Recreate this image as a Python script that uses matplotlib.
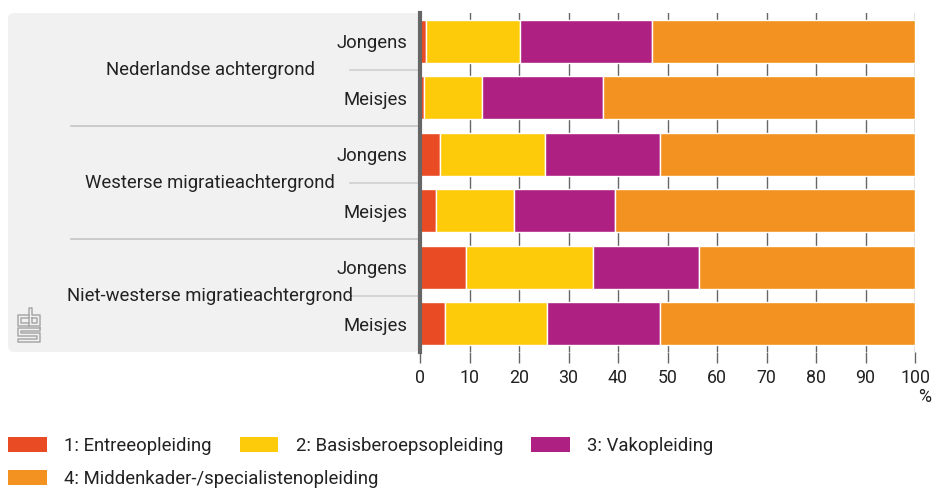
import matplotlib
matplotlib.use("Agg")
import matplotlib.pyplot as plt
import matplotlib.transforms as mtransforms
from matplotlib.patches import FancyBboxPatch, Patch
import numpy as np

# ---- data ----
groups = ["Nederlandse achtergrond", "Westerse migratieachtergrond", "Niet-westerse migratieachtergrond"]
sexes = ["Jongens", "Meisjes"]
series_names = ["1: Entreeopleiding", "2: Basisberoepsopleiding", "3: Vakopleiding",
                "4: Middenkader-/specialistenopleiding"]
entree = [1.2, 0.9, 4.0, 3.2, 9.2, 5.1]
basis = [19.1, 11.7, 21.3, 15.8, 25.7, 20.5]
vak = [26.6, 24.3, 23.1, 20.3, 21.4, 22.9]
midden = [53.1, 63.1, 51.6, 60.7, 43.7, 51.5]
xticks = [0, 10, 20, 30, 40, 50, 60, 70, 80, 90, 100]

colors = ["#e94c24", "#fdcb0a", "#ae2081", "#f39220"]
FONT = ["Roboto", "DejaVu Sans"]
plt.rcParams["font.family"] = FONT
FS = 13.3
TFS = 12.8
TXT = "#222222"

W, H = 933, 490
fig = plt.figure(figsize=(W / 100, H / 100), dpi=100)

# background pixel axes
bg = fig.add_axes([0, 0, 1, 1], zorder=0)
bg.set_xlim(0, W)
bg.set_ylim(H, 0)
bg.axis("off")
panel = FancyBboxPatch((8, 13), 412, 339, boxstyle="round,pad=0,rounding_size=6",
                       facecolor="#f0f1f0", edgecolor="none")
bg.add_patch(panel)

# main axes
L, R, T, B = 420, 915, 13, 352
ax = fig.add_axes([L / W, 1 - B / H, (R - L) / W, (B - T) / H], zorder=1)
ax.patch.set_alpha(0)

labels_rows = [s for g in groups for s in sexes]
y = np.arange(len(labels_rows))
left = np.zeros(len(y))
for vals, c in zip([entree, basis, vak, midden], colors):
    ax.barh(y, vals, left=left, height=0.76, color=c, edgecolor="white", linewidth=1, zorder=3)
    left = left + np.array(vals)

ax.set_xlim(0, 100)
ax.set_ylim(len(y) - 0.5, -0.5)
ax.set_xticks(xticks)
ax.set_xticklabels([str(t) for t in xticks], fontsize=TFS, color=TXT)
ax.tick_params(axis="x", direction="out", length=8, width=1, color="#666666", pad=4)
ax.set_yticks(y)
ax.set_yticklabels(labels_rows, fontsize=FS, color=TXT)
ax.tick_params(axis="y", length=0, pad=9)
ax.grid(axis="x", color="#666666", linewidth=1, zorder=0)
ax.set_axisbelow(True)
for s in ["top", "right", "bottom"]:
    ax.spines[s].set_visible(False)
ax.spines["left"].set_color("#666666")
ax.spines["left"].set_linewidth(3)
ax.spines["left"].set_zorder(5)

ax.text(1.006, -0.133, "%", transform=ax.transAxes, ha="left", va="center",
        fontsize=TFS, color=TXT)

# group labels and separators
tr = mtransforms.blended_transform_factory(bg.transData, ax.transData)
for gi, g in enumerate(groups):
    ax.text(210, gi * 2 + 0.5, g, transform=tr, ha="center", va="center",
            fontsize=FS, color=TXT, zorder=2)
    bg.plot([350, 419], [gi * 2 + 0.5] * 2, transform=tr, color="#cfd0cf", lw=1.2, zorder=1)
    if gi > 0:
        bg.plot([71, 419], [gi * 2 - 0.5] * 2, transform=tr, color="#c4c5c4", lw=1.2, zorder=1)

# CBS logo (decorative)
lc = "#a8a8a8"
logo_paths = [
    [(29, 315), (18, 315), (18, 326), (29, 326)],
    [(29, 318), (21, 318), (21, 323), (29, 323)],
    [(29, 326), (29, 308), (32, 308), (32, 315), (40, 315), (40, 326), (29, 326)],
    [(32, 318), (37, 318), (37, 323), (32, 323), (32, 318)],
    [(40, 328), (18, 328), (18, 336), (37, 336), (37, 339), (18, 339), (18, 342),
     (40, 342), (40, 333), (21, 333), (21, 331), (40, 331), (40, 328)],
]
for p in logo_paths:
    xs, ys = zip(*p)
    bg.plot(xs, ys, color=lc, lw=1.1, zorder=2)

# legend
handles = [Patch(facecolor=c, edgecolor="none") for c in colors]
common = dict(frameon=False, fontsize=FS, handlelength=2.1, handleheight=0.9,
              handletextpad=0.95, borderpad=0, borderaxespad=0, labelcolor=TXT)
leg1 = fig.legend(handles[:3], series_names[:3], loc="upper left",
                  bbox_to_anchor=(8 / W, 1 - 437 / H), ncol=3, columnspacing=1.5, **common)
leg2 = fig.legend(handles[3:], series_names[3:], loc="upper left",
                  bbox_to_anchor=(8 / W, 1 - 470 / H), ncol=1, **common)

fig.savefig("out.png", dpi=100)
